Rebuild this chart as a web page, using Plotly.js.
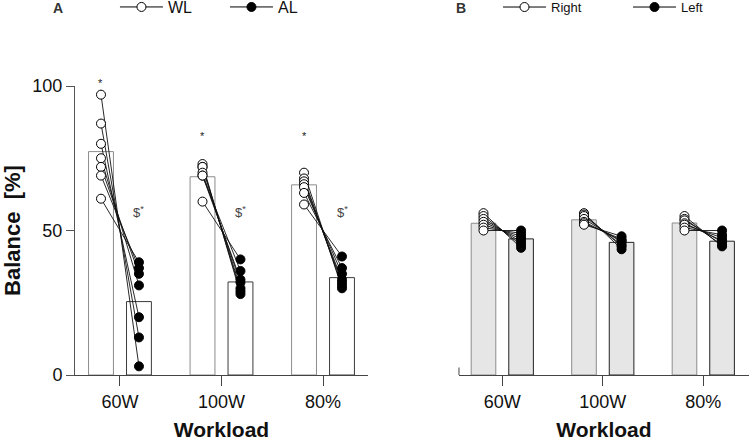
<!DOCTYPE html>
<html>
<head>
<meta charset="utf-8">
<script src="https://cdn.plot.ly/plotly-3.0.1.min.js"></script>
<style>
  html, body { margin: 0; padding: 0; background: #fff; }
  #chart { width: 749px; height: 441px; }
</style>
</head>
<body>
<div id="chart"></div>
<script>
// Workload conditions on the x axis of both panels
const workloads = ['60W', '100W', '80%'];

// Panel A: balance per subject, WL vs AL (subject order kept across arrays)
const wl60  = [97, 87, 80, 75, 72, 69, 61];
const al60  = [3, 13, 20, 31, 35, 37, 39];
const wl100 = [73, 72, 72, 70, 69, 69, 60];
const al100 = [28, 29, 30, 32, 33, 36, 40];
const wl80  = [70, 68, 67, 66, 65, 63, 59];
const al80  = [30, 31, 32, 33, 35, 37, 41];
const wlMean = [77.3, 68.6, 65.8];
const alMean = [25.4, 32.2, 33.7];

// Panel B: balance per subject, Right vs Left
const right60  = [56, 55, 54, 53, 52, 51, 50];
const left60   = [44, 45, 46, 47, 48, 49, 50];
const right100 = [56, 55.5, 55, 54, 53, 52.5, 52];
const left100  = [43.5, 44.5, 45, 46, 46.5, 47, 48];
const right80  = [55, 54, 53.5, 52.5, 52, 51, 50];
const left80   = [44.5, 45, 46, 46.5, 47.5, 48.5, 50];
const rightMean = [52.5, 53.7, 52.6];
const leftMean  = [47.1, 45.9, 46.3];

// Significance markers above each condition
const starText = ['*', '*', '*'];
const dollarText = ['$<sup>*</sup>', '$<sup>*</sup>', '$<sup>*</sup>'];

const FONT = 'Liberation Sans, Arial, Helvetica, sans-serif';
const OFF = 0.187;     // half distance between paired bars (category units)
const BAR_W = 0.245;   // bar width (category units)
const idx = workloads.map((_, i) => i);

function bars(means, xa, ya, fill, edge) {
  return {
    type: 'bar', x: idx.map(i => i + xa.off), y: means, width: BAR_W,
    xaxis: xa.axis, yaxis: ya, showlegend: false, hoverinfo: 'skip',
    marker: { color: fill, line: { color: edge, width: 1 } }
  };
}

// connecting lines for each subject: first group at -OFF, second at +OFF
function pairLines(firstSets, secondSets, xaxis, yaxis) {
  const xs = [], ys = [];
  firstSets.forEach((a, i) => {
    const b = secondSets[i];
    a.forEach((v, k) => {
      xs.push(i - OFF, i + OFF, null);
      ys.push(v, b[k], null);
    });
  });
  return {
    type: 'scatter', mode: 'lines', x: xs, y: ys, xaxis, yaxis,
    line: { color: '#111', width: 0.9 }, showlegend: false,
    hoverinfo: 'skip', cliponaxis: false
  };
}

function points(sets, shift, fill, xaxis, yaxis) {
  const xs = [], ys = [];
  sets.forEach((a, i) => a.forEach(v => { xs.push(i + shift); ys.push(v); }));
  return {
    type: 'scatter', mode: 'markers', x: xs, y: ys, xaxis, yaxis,
    marker: { symbol: 'circle', size: 9, color: fill, line: { color: '#000', width: 1 } },
    showlegend: false, cliponaxis: false
  };
}

function legendKey(name, fill, legend) {
  return {
    type: 'scatter', mode: 'lines+markers', x: [null], y: [null], name, legend,
    xaxis: legend === 'legend' ? 'x' : 'x2', yaxis: legend === 'legend' ? 'y' : 'y2',
    marker: { symbol: 'circle', size: 9, color: fill, line: { color: '#000', width: 1 } },
    line: { color: '#000', width: 1 }
  };
}

const wlSets = [wl60, wl100, wl80];
const alSets = [al60, al100, al80];
const rSets = [right60, right100, right80];
const lSets = [left60, left100, left80];

const data = [
  bars(wlMean, { axis: 'x', off: -OFF }, 'y', '#ffffff', '#8c8c8c'),
  bars(alMean, { axis: 'x', off: OFF }, 'y', '#ffffff', '#3a3a3a'),
  bars(rightMean, { axis: 'x2', off: -OFF }, 'y2', '#e6e6e6', '#8c8c8c'),
  bars(leftMean, { axis: 'x2', off: OFF }, 'y2', '#e6e6e6', '#222222'),
  pairLines(wlSets, alSets, 'x', 'y'),
  pairLines(rSets, lSets, 'x2', 'y2'),
  points(wlSets, -OFF, '#ffffff', 'x', 'y'),
  points(alSets, OFF, '#000000', 'x', 'y'),
  points(rSets, -OFF, '#ffffff', 'x2', 'y2'),
  points(lSets, OFF, '#000000', 'x2', 'y2'),
  legendKey('WL', '#ffffff', 'legend'),
  legendKey('AL', '#000000', 'legend'),
  legendKey('Right', '#ffffff', 'legend2'),
  legendKey('Left', '#000000', 'legend2')
];

const xCommon = {
  tickvals: idx, ticktext: workloads, showline: true, linecolor: '#444', linewidth: 1,
  ticks: 'outside', ticklen: 10, tickcolor: '#444', tickwidth: 1,
  showgrid: false, zeroline: false, fixedrange: true,
  tickfont: { family: FONT, size: 18, color: '#111' },
  title: { text: 'Workload', font: { family: FONT, size: 21, weight: 700, color: '#111' }, standoff: 12 }
};

const annotations = [
  { text: 'A', xref: 'paper', yref: 'paper', x: -0.0252, y: 1.27, xanchor: 'center', yanchor: 'middle',
    showarrow: false, font: { family: FONT, size: 14, weight: 700, color: '#333' } },
  { text: 'B', xref: 'paper', yref: 'paper', x: 0.5727, y: 1.27, xanchor: 'center', yanchor: 'middle',
    showarrow: false, font: { family: FONT, size: 14, weight: 700, color: '#333' } }
];
const starY = [101, 82.7, 82.7];
idx.forEach(i => {
  annotations.push({ text: starText[i], xref: 'x', yref: 'y domain', x: i - OFF, y: starY[i] / 100,
    xanchor: 'center', yanchor: 'middle',
    showarrow: false, font: { family: FONT, size: 11, color: '#222' } });
  annotations.push({ text: dollarText[i], xref: 'x', yref: 'y', x: i + OFF, y: 56.5,
    xanchor: 'center', yanchor: 'middle',
    showarrow: false, font: { family: FONT, size: 13, color: '#444' } });
});

const legendBase = {
  orientation: 'h', xanchor: 'left', yanchor: 'top', itemwidth: 43,
  entrywidthmode: 'pixels', bgcolor: 'rgba(0,0,0,0)', borderwidth: 0
};

const layout = {
  width: 749, height: 441,
  margin: { l: 75, r: 0, t: 86, b: 66, autoexpand: false },
  paper_bgcolor: '#fff', plot_bgcolor: '#fff',
  font: { family: FONT, color: '#111' },
  barmode: 'overlay',
  xaxis: Object.assign({}, xCommon, { domain: [0, 0.4347], range: [-0.443, 2.443], anchor: 'y' }),
  xaxis2: Object.assign({}, xCommon, { domain: [0.5697, 1], range: [-0.431, 2.455], anchor: 'y2' }),
  yaxis: {
    domain: [0, 1], range: [0, 100], tickvals: [0, 50, 100], showline: true,
    linecolor: '#555', linewidth: 1, ticks: 'outside', ticklen: 8, tickcolor: '#555',
    showgrid: false, zeroline: false, fixedrange: true,
    tickfont: { family: FONT, size: 18, color: '#111' },
    title: { text: 'Balance  [%]', font: { family: FONT, size: 22, weight: 700, color: '#111' }, standoff: 10 }
  },
  yaxis2: { domain: [0, 1], range: [0, 100], anchor: 'x2', visible: false, fixedrange: true },
  legend: Object.assign({}, legendBase, {
    x: 0.0593, y: 1.332, entrywidth: 52,
    font: { family: FONT, size: 16, color: '#111' }
  }),
  legend2: Object.assign({}, legendBase, {
    x: 0.6276, y: 1.325, entrywidth: 72,
    font: { family: FONT, size: 13, color: '#111' }
  }),
  shapes: [
    // short y-axis stub of panel B
    { type: 'line', xref: 'x2 domain', yref: 'y2', x0: 0, x1: 0, y0: 0, y1: 2.6,
      line: { color: '#444', width: 1 } }
  ],
  annotations
};

Plotly.newPlot('chart', data, layout, { displayModeBar: false, staticPlot: true });
</script>
</body>
</html>
